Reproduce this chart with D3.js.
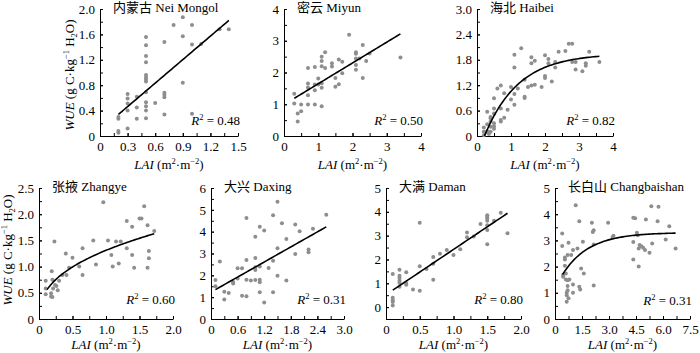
<!DOCTYPE html>
<html>
<head>
<meta charset="utf-8">
<script src="https://cdn.jsdelivr.net/npm/d3@7"></script>
<style>
  body { margin: 0; background: #fff; }
  svg { display: block; font-family: 'Liberation Serif', 'Times New Roman', 'Noto Sans CJK SC', serif; }
</style>
</head>
<body>
<svg id="chart" width="700" height="353"></svg>
<script>
'use strict';
// Panel data: LAI (x) and WUE (y)
const neiMongolLAI = [0.2, 0.2, 0.2, 0.2, 0.3, 0.3, 0.3, 0.3, 0.3, 0.4, 0.4, 0.4, 0.5, 0.5, 0.5, 0.5, 0.5, 0.5, 0.5, 0.5, 0.5, 0.5, 0.5, 0.5, 0.5, 0.6, 0.7, 0.7, 0.7, 0.7, 0.7, 0.8, 0.9, 0.9, 0.9, 1.0, 1.0, 1.0, 1.1, 1.3, 1.4]
const neiMongolWUE = [0.27, 0.30, 0.05, 0.08, 0.66, 0.59, 0.51, 0.40, 0.12, 0.62, 0.45, 0.27, 1.56, 1.43, 1.26, 1.16, 0.96, 0.92, 0.89, 0.86, 0.69, 0.53, 0.47, 0.40, 0.28, 0.52, 1.48, 0.68, 0.65, 0.61, 0.34, 1.75, 1.87, 1.57, 0.84, 1.75, 1.44, 0.35, 1.45, 1.68, 1.68]

const miyunLAI = [0.3, 0.3, 0.4, 0.4, 0.5, 0.5, 0.7, 0.7, 0.7, 0.7, 0.7, 0.9, 0.9, 0.9, 0.9, 1.0, 1.0, 1.1, 1.1, 1.1, 1.1, 1.1, 1.1, 1.2, 1.2, 1.4, 1.4, 1.5, 1.5, 1.6, 1.6, 1.7, 1.7, 1.9, 2.1, 2.1, 2.1, 2.1, 2.1, 2.2, 2.3, 2.3, 2.4, 2.5, 3.4]
const miyunWUE = [1.33, 1.02, 0.71, 0.46, 0.78, 0.99, 2.14, 1.65, 1.53, 1.28, 0.99, 2.17, 1.62, 1.44, 0.99, 1.81, 1.62, 2.50, 2.36, 2.20, 1.66, 1.52, 0.94, 2.64, 2.14, 2.29, 2.19, 1.83, 1.55, 2.41, 1.63, 2.34, 1.98, 3.19, 2.64, 2.59, 2.44, 2.24, 2.09, 2.44, 2.87, 1.83, 2.36, 2.60, 2.47]

const haibeiLAI = [0.2, 0.2, 0.2, 0.25, 0.3, 0.3, 0.3, 0.35, 0.35, 0.4, 0.4, 0.4, 0.4, 0.4, 0.5, 0.5, 0.5, 0.5, 0.5, 0.5, 0.6, 0.7, 0.7, 0.7, 0.7, 0.8, 0.8, 0.9, 1.0, 1.0, 1.1, 1.1, 1.1, 1.1, 1.2, 1.3, 1.4, 1.4, 1.4, 1.5, 1.6, 1.6, 1.6, 1.7, 1.7, 1.9, 2.0, 2.0, 2.0, 2.1, 2.1, 2.2, 2.3, 2.3, 2.4, 2.6, 2.7, 2.8, 2.8, 2.9, 2.9, 3.1, 3.2, 3.2, 3.3, 3.6]
const haibeiWUE = [0.20, 0.10, 0.02, 0.08, 0.57, 0.28, 0.12, 0.08, 0.05, 0.42, 0.34, 0.22, 0.45, 0.10, 0.89, 0.65, 0.53, 0.30, 0.23, 0.17, 1.12, 1.19, 0.65, 0.38, 0.34, 1.01, 0.43, 0.62, 1.16, 0.86, 1.92, 1.62, 0.99, 0.74, 1.12, 2.07, 1.33, 0.93, 0.90, 1.16, 1.86, 1.72, 1.19, 1.78, 1.21, 1.16, 1.91, 1.42, 1.37, 1.82, 1.72, 1.29, 1.75, 1.62, 1.99, 2.01, 2.18, 2.18, 1.75, 1.75, 1.57, 1.53, 1.72, 1.66, 1.99, 1.75]

const zhangyeLAI = [0.1, 0.1, 0.1, 0.18, 0.18, 0.19, 0.2, 0.2, 0.21, 0.23, 0.24, 0.26, 0.28, 0.3, 0.35, 0.4, 0.41, 0.45, 0.5, 0.6, 0.65, 0.65, 0.81, 0.85, 0.96, 1.03, 1.08, 1.1, 1.15, 1.19, 1.22, 1.31, 1.31, 1.39, 1.39, 1.42, 1.5, 1.53, 1.57, 1.62, 1.62, 1.64, 1.64, 1.72]
const zhangyeWUE = [0.73, 0.58, 0.47, 0.43, 0.49, 0.91, 0.75, 0.42, 0.58, 1.48, 0.65, 0.63, 0.55, 0.73, 0.84, 1.25, 0.84, 0.98, 1.17, 1.00, 1.35, 0.84, 1.50, 1.04, 2.23, 1.50, 1.22, 1.00, 1.48, 1.06, 1.48, 1.87, 1.35, 1.76, 1.22, 0.98, 1.92, 1.92, 2.15, 1.79, 0.98, 1.30, 1.16, 1.68]

const daxingLAI = [0.1, 0.1, 0.2, 0.3, 0.3, 0.4, 0.5, 0.5, 0.6, 0.6, 0.7, 0.7, 0.8, 0.8, 0.8, 0.8, 0.9, 1.0, 1.0, 1.0, 1.0, 1.0, 1.1, 1.1, 1.1, 1.1, 1.1, 1.2, 1.2, 1.3, 1.4, 1.4, 1.4, 1.5, 1.5, 1.5, 1.6, 1.7, 1.7, 1.9, 1.9, 2.0, 2.2, 2.2, 2.3, 2.6]
const daxingWUE = [1.79, 1.50, 2.63, 0.89, 1.25, 1.19, 1.70, 1.63, 2.33, 1.86, 2.32, 1.07, 4.63, 2.70, 1.80, 1.04, 1.76, 3.77, 2.79, 2.37, 2.24, 1.79, 4.23, 2.40, 1.80, 1.68, 1.22, 4.05, 0.76, 2.34, 4.75, 2.67, 1.22, 5.37, 3.24, 1.98, 4.38, 3.66, 1.76, 4.33, 2.98, 4.02, 3.18, 3.06, 4.13, 4.78]

const damanLAI = [0.1, 0.1, 0.1, 0.1, 0.1, 0.2, 0.2, 0.2, 0.2, 0.2, 0.2, 0.3, 0.3, 0.3, 0.4, 0.5, 0.5, 0.5, 0.6, 0.7, 0.7, 0.7, 0.8, 0.9, 1.0, 1.1, 1.2, 1.2, 1.3, 1.4, 1.5, 1.5, 1.5, 1.5, 1.5, 1.5, 1.5, 1.6, 1.7, 1.8]
const damanWUE = [1.39, 0.39, 0.29, 0.21, 0.07, 1.57, 1.32, 1.22, 1.11, 1.01, 0.85, 1.46, 1.01, 0.94, 0.74, 3.54, 1.71, 0.69, 1.60, 2.10, 1.82, 1.15, 2.24, 2.40, 2.19, 2.43, 3.13, 2.93, 2.96, 3.49, 3.86, 3.79, 3.72, 3.63, 3.44, 3.24, 2.64, 3.63, 3.96, 3.10]

const changbaishanLAI = [0.4, 0.4, 0.45, 0.45, 0.55, 0.55, 0.55, 0.6, 0.6, 0.65, 0.65, 0.65, 0.7, 0.7, 0.7, 0.75, 0.7, 0.75, 0.8, 0.9, 1.0, 1.0, 1.0, 1.15, 1.25, 1.35, 1.35, 1.4, 1.45, 1.55, 1.6, 2.05, 2.1, 2.15, 2.15, 2.15, 2.95, 3.2, 3.25, 4.35, 4.45, 4.35, 4.35, 4.55, 4.6, 4.65, 4.65, 4.7, 4.8, 4.9, 5.0, 5.05, 5.25, 5.35, 5.4, 5.7, 5.75, 6.15, 6.35, 6.7]
const changbaishanWUE = [3.26, 2.79, 1.68, 1.61, 2.35, 2.27, 2.03, 1.74, 1.51, 1.00, 0.91, 0.66, 1.10, 1.48, 2.44, 2.91, 1.26, 0.79, 1.51, 2.44, 2.63, 1.32, 1.00, 4.34, 2.69, 3.73, 1.23, 1.13, 1.93, 2.95, 1.74, 3.67, 3.32, 3.39, 2.84, 1.28, 3.67, 3.13, 3.18, 3.86, 3.85, 2.94, 2.27, 3.29, 3.20, 2.69, 2.00, 2.82, 2.78, 2.72, 2.63, 3.80, 2.53, 4.30, 2.88, 3.73, 4.28, 3.03, 3.54, 2.69]

// Fitted curves: [type, coefficients, x range]
const neiMongolFit = ['linear', [0.093, 1.233], [0.2, 1.4]]
const miyunFit = ['linear', [0.99, 0.655], [0.3, 3.4]]
const haibeiFit = ['exp', [1.95, 2.43, 1.0], [0.22, 3.6]]
const zhangyeFit = ['power', [1.31, 0.4], [0.12, 1.72]]
const daxingFit = ['linear', [1.23, 1.15], [0.1, 2.6]]
const damanFit = ['linear', [0.52, 1.9], [0.1, 1.8]]
const changbaishanFit = ['exp', [3.3, 2.13, 0.68], [0.42, 6.7]]

// Tick labels
const neiMongolXTicks = ['0', '0.3', '0.6', '0.9', '1.2', '1.5']
const neiMongolYTicks = ['0', '0.4', '0.8', '1.2', '1.6', '2.0']
const miyunXTicks = ['0', '1', '2', '3', '4']
const miyunYTicks = ['0', '1', '2', '3', '4']
const haibeiXTicks = ['0', '1', '2', '3', '4']
const haibeiYTicks = ['0', '0.6', '1.2', '1.8', '2.4', '3.0']
const zhangyeXTicks = ['0', '0.5', '1.0', '1.5', '2.0']
const zhangyeYTicks = ['0', '0.5', '1.0', '1.5', '2.0', '2.5']
const daxingXTicks = ['0', '0.6', '1.2', '1.8', '2.4', '3.0']
const daxingYTicks = ['0', '1', '2', '3', '4', '5', '6']
const damanXTicks = ['0', '0.5', '1.0', '1.5', '2.0']
const damanYTicks = ['0', '1', '2', '3', '4', '5']
const changbaishanXTicks = ['0', '1.5', '3.0', '4.5', '6.0', '7.5']
const changbaishanYTicks = ['0', '1', '2', '3', '4', '5']

const siteNames = ['内蒙古 Nei Mongol', '密云 Miyun', '海北 Haibei', '张掖 Zhangye', '大兴 Daxing', '大满 Daman', '长白山 Changbaishan']
const r2Values = ['0.48', '0.50', '0.82', '0.60', '0.31', '0.80', '0.31']

// Layout: plot boxes [left, right, top, bottom] in px
const topRow = [9, 136]
const bottomRow = [188, 319]
const panels = [
  { lai: neiMongolLAI, wue: neiMongolWUE, fit: neiMongolFit, xt: neiMongolXTicks, yt: neiMongolYTicks, xd: [0, 1.5], yd: [0, 2], xm: 0.15, ym: 0.2, box: [100, 238, ...topRow], r2y: 11, xty: 33 },
  { lai: miyunLAI, wue: miyunWUE, fit: miyunFit, xt: miyunXTicks, yt: miyunYTicks, xd: [0, 4], yd: [0, 4], xm: 0.5, ym: 0.5, box: [284, 421, ...topRow], r2y: 11, xty: 33 },
  { lai: haibeiLAI, wue: haibeiWUE, fit: haibeiFit, xt: haibeiXTicks, yt: haibeiYTicks, xd: [0, 4], yd: [0, 3], xm: 0.5, ym: 0.3, box: [477, 613, ...topRow], r2y: 11, xty: 33 },
  { lai: zhangyeLAI, wue: zhangyeWUE, fit: zhangyeFit, xt: zhangyeXTicks, yt: zhangyeYTicks, xd: [0, 2], yd: [0, 2.5], xm: 0.25, ym: 0.25, box: [39, 173, ...bottomRow], r2y: 15, xty: 30 },
  { lai: daxingLAI, wue: daxingWUE, fit: daxingFit, xt: daxingXTicks, yt: daxingYTicks, xd: [0, 3], yd: [0, 6], xm: 0.3, ym: 0.5, box: [211, 344, ...bottomRow], r2y: 15, xty: 30 },
  { lai: damanLAI, wue: damanWUE, fit: damanFit, xt: damanXTicks, yt: damanYTicks, xd: [0, 2], yd: [-0.5, 5], xm: 0.25, ym: 0.5, box: [386, 521, ...bottomRow], r2y: 15, xty: 30 },
  { lai: changbaishanLAI, wue: changbaishanWUE, fit: changbaishanFit, xt: changbaishanXTicks, yt: changbaishanYTicks, xd: [0, 7.5], yd: [0, 5], xm: 0.75, ym: 0.5, box: [555, 690, ...bottomRow], r2y: 14, xty: 30 }
]

const fitFns = {
  linear: ([a, b]) => x => a + b * x,
  power: ([a, b]) => x => a * Math.pow(x, b),
  exp: ([a, b, k]) => x => a - b * Math.exp(-k * x)
}

const fontSize = 13
const svg = d3.select('#chart')

// Append tspans with italic / super / sub parts
function richText(text, parts) {
  let shift = 0
  parts.forEach(([str, kind]) => {
    const target = kind === 'sup' ? -5 : kind === 'sub' ? 3 : 0
    const t = text.append('tspan').text(str).attr('dy', target - shift)
    if (kind === 'i') t.attr('font-style', 'italic')
    if (kind === 'sup' || kind === 'sub') t.attr('font-size', 8.5)
    shift = target
  })
  return text
}

function minorTicks(domain, step) {
  return d3.range(Math.round((domain[1] - domain[0]) / step) + 1).map(i => +(domain[0] + i * step).toFixed(4))
}

function styleAxis(g) {
  g.attr('font-size', fontSize).attr('font-family', null)
  g.selectAll('text').attr('fill', '#000')
}

function drawPanel(p, i) {
  const [left, right, top, bottom] = p.box
  const x = d3.scaleLinear().domain(p.xd).range([left, right])
  const y = d3.scaleLinear().domain(p.yd).range([bottom, top])
  const g = svg.append('g')

  // minor ticks
  g.append('g').attr('transform', `translate(0,${bottom})`)
    .call(d3.axisBottom(x).tickValues(minorTicks(p.xd, p.xm)).tickSize(-3).tickFormat(''))
    .call(a => a.select('.domain').remove())
  g.append('g').attr('transform', `translate(${left},0)`)
    .call(d3.axisLeft(y).tickValues(minorTicks(p.yd, p.ym)).tickSize(-3).tickFormat(''))
    .call(a => a.select('.domain').remove())

  // main axes
  g.append('g').attr('transform', `translate(0,${bottom})`)
    .call(d3.axisBottom(x).tickValues(p.xt.map(Number)).tickFormat((d, j) => p.xt[j]).tickSize(-3).tickSizeOuter(0).tickPadding(6))
    .call(styleAxis)
  g.append('g').attr('transform', `translate(${left},0)`)
    .call(d3.axisLeft(y).tickValues(p.yt.map(Number)).tickFormat((d, j) => p.yt[j]).tickSize(-3).tickSizeOuter(0).tickPadding(5))
    .call(styleAxis)

  // scatter points
  g.append('g').selectAll('circle')
    .data(d3.zip(p.lai, p.wue))
    .join('circle')
    .attr('cx', d => x(d[0]))
    .attr('cy', d => y(d[1]))
    .attr('r', 2)
    .attr('fill', '#8e8e8e')

  // fitted curve
  const [type, coef, range] = p.fit
  const f = fitFns[type](coef)
  const xs = d3.range(61).map(j => range[0] + (range[1] - range[0]) * j / 60)
  g.append('path')
    .datum(xs)
    .attr('fill', 'none')
    .attr('stroke', '#000')
    .attr('stroke-width', 1.6)
    .attr('d', d3.line().x(d => x(d)).y(d => y(f(d))))

  // site title
  g.append('text')
    .attr('x', left + 13)
    .attr('y', top + 3)
    .attr('font-size', fontSize)
    .text(siteNames[i])

  // R2 label
  richText(g.append('text')
    .attr('x', right + 2)
    .attr('y', bottom - p.r2y)
    .attr('text-anchor', 'end')
    .attr('font-size', fontSize), [['R', 'i'], ['2', 'sup'], [' = ' + r2Values[i]]])

  // x axis title
  richText(g.append('text')
    .attr('x', (left + right) / 2)
    .attr('y', bottom + p.xty)
    .attr('text-anchor', 'middle')
    .attr('font-size', fontSize), [['LAI', 'i'], [' (m'], ['2', 'sup'], ['·m'], ['−2', 'sup'], [')']])
}

panels.forEach(drawPanel)

// y axis titles, one per row
const yTitlePos = [[74, 75], [11.5, 250]]
yTitlePos.forEach(([px, py]) => {
  richText(svg.append('text')
    .attr('transform', `translate(${px},${py}) rotate(-90)`)
    .attr('text-anchor', 'middle')
    .attr('font-size', fontSize), [['WUE', 'i'], [' (g C·kg'], ['−1', 'sup'], [' H'], ['2', 'sub'], ['O)']])
})
</script>
</body>
</html>
